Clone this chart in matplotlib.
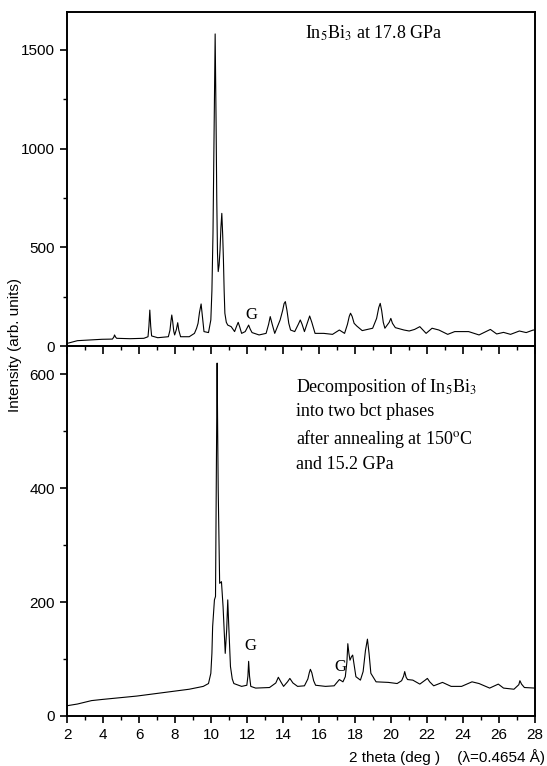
import matplotlib
matplotlib.use("Agg")
import matplotlib.pyplot as plt
from matplotlib.ticker import MultipleLocator

plt.rcParams["font.family"] = "Liberation Sans"
plt.rcParams["mathtext.fontset"] = "stix"

# In5Bi3 at 17.8 GPa (top panel)
top_theta = [2.0, 2.3, 2.58, 3.16, 3.94, 4.52, 4.60, 4.64, 4.70, 4.76, 5.49, 6.27, 6.50,
             6.55, 6.60, 6.65, 6.70, 7.04, 7.63, 7.72, 7.78, 7.82, 7.87, 7.93, 7.98,
             8.08, 8.15, 8.21, 8.31, 8.79, 9.08, 9.20, 9.28, 9.36, 9.45, 9.52, 9.61,
             9.86, 9.99, 10.05, 10.11, 10.17, 10.23, 10.28, 10.32, 10.36, 10.40,
             10.45, 10.50, 10.55, 10.60, 10.65, 10.69, 10.73, 10.77, 10.85, 10.93,
             11.12, 11.31, 11.42, 11.51, 11.60, 11.70, 11.90, 12.00, 12.09, 12.18,
             12.28, 12.67, 13.06, 13.20, 13.29, 13.40, 13.54, 13.84, 13.98, 14.06,
             14.13, 14.22, 14.32, 14.42, 14.65, 14.85, 14.96, 15.06, 15.19, 15.36,
             15.48, 15.60, 15.78, 16.26, 16.75, 17.13, 17.42, 17.58, 17.68, 17.75,
             17.84, 17.95, 18.10, 18.40, 18.98, 19.20, 19.32, 19.40, 19.48, 19.57,
             19.66, 19.90, 19.99, 20.08, 20.24, 20.72, 21.01, 21.31, 21.60, 21.95,
             22.28, 22.66, 23.15, 23.54, 24.31, 24.89, 25.52, 25.87, 26.25, 26.64,
             27.13, 27.51, 27.90, 28.0]
top_int = [13, 20, 27, 30, 34, 35, 45, 56, 45, 39, 37, 39, 47,
           100, 182, 100, 51, 42, 47, 80, 130, 157, 125, 75, 56,
           85, 118, 80, 47, 47, 64, 90, 115, 170, 213, 150, 73,
           68, 132, 280, 571, 1100, 1581, 1150, 740, 470, 377,
           410, 486, 600, 672, 560, 436, 280, 166, 120, 106,
           98, 73, 100, 120, 95, 64, 73, 90, 106, 85,
           68, 56, 64, 110, 149, 110, 64, 132, 180, 215,
           225, 180, 115, 81, 73, 110, 132, 110, 73, 120,
           152, 120, 64, 64, 59, 81, 64, 110, 150, 166,
           150, 115, 101, 78, 90, 140, 195, 216, 180, 120,
           90, 120, 140, 115, 93, 81, 76, 84, 98, 64,
           90, 81, 59, 73, 73, 56, 84, 61, 69, 59,
           76, 68, 81, 80]

# decomposition after annealing at 150 C and 15.2 GPa (bottom panel)
bot_theta = [2.0, 2.58, 3.36, 3.94, 4.91, 5.88, 6.85, 7.82, 8.79, 9.57, 9.86, 9.99,
             10.05, 10.09, 10.19, 10.25, 10.30, 10.34, 10.37, 10.40, 10.48, 10.58,
             10.67, 10.79, 10.87, 10.93, 10.98, 11.08, 11.18, 11.27, 11.70, 11.99,
             12.05, 12.09, 12.14, 12.21, 12.48, 13.25, 13.60, 13.74, 13.88, 14.03,
             14.25, 14.38, 14.55, 14.81, 15.19, 15.38, 15.46, 15.52, 15.60, 15.70,
             15.81, 16.36, 16.84, 17.13, 17.33, 17.46, 17.55, 17.60, 17.66, 17.72,
             17.80, 17.87, 17.95, 18.05, 18.30, 18.45, 18.58, 18.69, 18.78, 18.88,
             19.17, 19.85, 20.34, 20.59, 20.70, 20.76, 20.84, 20.92, 21.21, 21.60,
             21.90, 22.02, 22.15, 22.37, 22.86, 23.34, 23.92, 24.50, 24.89, 25.48,
             25.96, 26.25, 26.83, 27.10, 27.16, 27.25, 27.41, 28.0]
bot_int = [18, 21, 27, 29, 32, 35, 39, 43, 47, 52, 57, 75,
           110, 157, 204, 210, 444, 620, 500, 397, 233, 236,
           192, 110, 151, 204, 163, 87, 65, 57, 52, 54,
           70, 96, 70, 52, 49, 50, 58, 68, 60, 52,
           60, 66, 58, 52, 53, 65, 76, 82, 76, 62,
           54, 52, 53, 64, 60, 69, 95, 127, 110, 98,
           104, 107, 90, 69, 63, 78, 115, 135, 110, 75,
           60, 59, 57, 62, 70, 78, 68, 64, 63, 56,
           63, 66, 60, 53, 59, 52, 52, 60, 57, 49,
           56, 49, 47, 55, 62, 56, 50, 49]

top_note = "In$_5$Bi$_3$ at 17.8 GPa"
bot_note = ("Decomposition of In$_5$Bi$_3$\ninto two bct phases\n"
            "after annealing at 150$^{\\rm o}$C\nand 15.2 GPa")
g_marks_top = [(12.22, 157)]
g_marks_bot = [(12.19, 123), (17.17, 86)]

fig = plt.figure(figsize=(5.47, 7.66), dpi=100)
ax1 = fig.add_axes([0.1225, 0.5483, 0.8556, 0.4360])
ax2 = fig.add_axes([0.1225, 0.0653, 0.8556, 0.4830])

ax1.plot(top_theta, top_int, color="black", lw=0.8)
ax2.plot(bot_theta, bot_int, color="black", lw=0.8)

for ax in (ax1, ax2):
    ax.set_xlim(2, 28)
    ax.xaxis.set_major_locator(MultipleLocator(2))
    ax.xaxis.set_minor_locator(MultipleLocator(1))
    for s in ax.spines.values():
        s.set_linewidth(1.4)
    ax.tick_params(axis="y", which="major", direction="out", length=5, width=1.2,
                   labelsize=11, right=False)
    ax.tick_params(axis="y", which="minor", direction="out", length=3, width=1.0,
                   right=False)

ax1.set_ylim(0, 1692)
ax1.yaxis.set_major_locator(MultipleLocator(500))
ax1.yaxis.set_minor_locator(MultipleLocator(250))
ax1.tick_params(axis="x", which="both", bottom=False, top=False, labelbottom=False)

ax2.set_ylim(0, 650)
ax2.yaxis.set_major_locator(MultipleLocator(200))
ax2.yaxis.set_minor_locator(MultipleLocator(100))
ax2.tick_params(axis="x", which="major", direction="out", length=5, width=1.2,
                labelsize=11, top=False)
ax2.tick_params(axis="x", which="minor", direction="out", length=3, width=1.0, top=False)
# inward ticks along the shared boundary
sec = ax2.secondary_xaxis("top")
sec.xaxis.set_major_locator(MultipleLocator(2))
sec.xaxis.set_minor_locator(MultipleLocator(1))
sec.tick_params(axis="x", which="major", direction="in", length=6, width=1.2, labeltop=False)
sec.tick_params(axis="x", which="minor", direction="in", length=3, width=1.0, labeltop=False)
sec.spines["top"].set_linewidth(1.4)

serif = "Liberation Serif"
ax1.text(15.2, 1584, top_note, family=serif, fontsize=13, va="center", ha="left")
ax2.text(14.7, 598, bot_note, family=serif, fontsize=13, va="top", ha="left",
         linespacing=1.45)
for x, y in g_marks_top:
    ax1.text(x, y, "G", family=serif, fontsize=12, ha="center", va="center")
for x, y in g_marks_bot:
    ax2.text(x, y, "G", family=serif, fontsize=12, ha="center", va="center")

fig.text(0.028, 0.55, "Intensity (arb. units)", rotation=90, fontsize=11,
         ha="center", va="center")
fig.text(0.996, 0.012, "2 theta (deg )    (\u03bb=0.4654 \u00c5)", fontsize=11,
         ha="right", va="center")

fig.savefig("out.png", dpi=100)
